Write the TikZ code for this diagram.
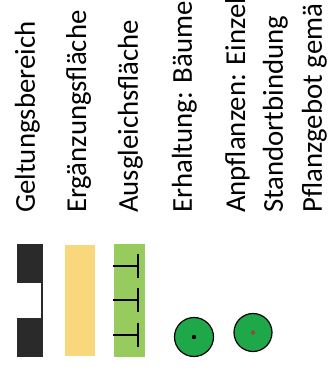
\documentclass[tikz,border=0pt]{standalone}
\usepackage{fontspec}
\setmainfont{Carlito}
\definecolor{blk}{HTML}{2A2A2A}
\definecolor{ylw}{HTML}{F9D77D}
\definecolor{lgr}{HTML}{97CB5E}
\definecolor{cgr}{HTML}{1FA84A}
\definecolor{dotred}{HTML}{B03030}
\begin{document}
\begin{tikzpicture}[x=1pt,y=1pt,
  lbl/.style={rotate=90,anchor=base west,inner sep=0pt,font=\fontsize{28.8}{34}\selectfont},
  tree/.style={circle,draw=black,line width=1.2pt,fill=cgr,inner sep=0pt},
  tbar/.style={line width=2pt,draw=black}]
\useasboundingbox (0,0) rectangle (331,376);
\clip (0,0) rectangle (331,376);
% labels
\node[lbl] (t1) at (35,163) {Geltungsbereich};
\node[lbl] (t2) at (86,163) {Ergänzungsfläche};
\node[lbl] (t3) at (138,163) {Ausgleichsfläche};
\node[lbl] (t4) at (192,163) {Erhaltung: Bäume};
\node[lbl] (t5) at (245,163) {Anpflanzen: Einzel};
\node[lbl] (t6) at (283,163) {Standortbindung};
\node[lbl] (t7) at (322,163) {Pflanzgebot gemä};
% Geltungsbereich symbol
\fill[blk] (17,132) rectangle (43,93);
\fill[blk] (17,58) rectangle (43,19);
\draw[blk,line width=2pt] (42,94) -- (42,57);
% Ergaenzungsflaeche
\fill[ylw] (65,131) rectangle (95,20);
% Ausgleichsflaeche
\fill[lgr] (114,132) rectangle (145,19);
\foreach \y in {110,76,41}{
  \draw[tbar] (113,\y) -- (138,\y);
  \draw[tbar] (138,\y+12) -- (138,\y-12);
}
% trees
\node[tree,minimum size=39pt] (c1) at (194,39) {};
\fill[black] (c1.center) circle (2.2pt);
\node[tree,minimum size=38pt] (c2) at (253,43.5) {};
\draw[dotred,line width=0.9pt] (c2.center) circle (1.8pt);
\end{tikzpicture}
\end{document}
